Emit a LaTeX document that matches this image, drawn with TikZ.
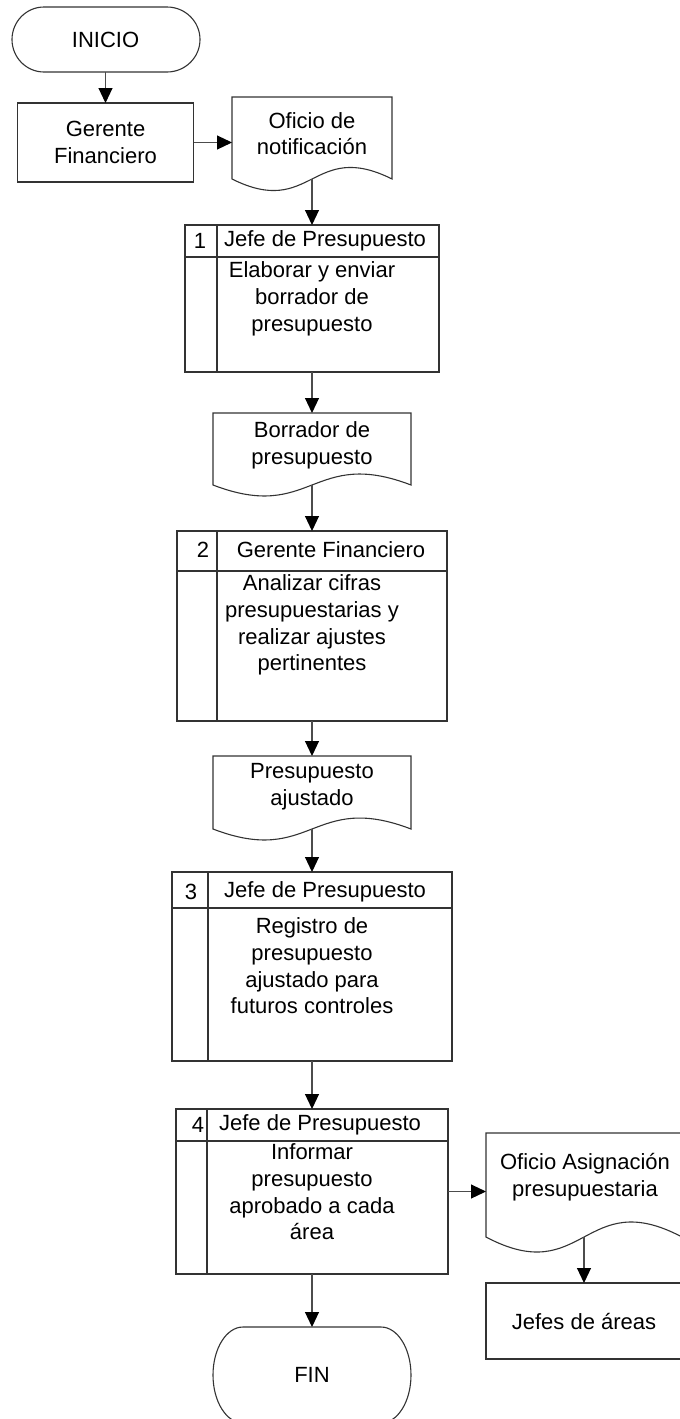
\documentclass[tikz,border=0pt]{standalone}
\usepackage{fontspec}
\setmainfont{Liberation Sans}
\usetikzlibrary{arrows.meta,calc}
\newcommand{\mydocshape}[2]{%
  \draw[shp] (#1.south west) -- (#1.north west) -- (#1.north east) -- (#1.south east)
    .. controls ($(#1.south)+(0,-#2)$) and ($(#1.south)+(0,#2)$) .. (#1.south west) -- cycle;}
\begin{document}
\begin{tikzpicture}[x=1pt,y=-1pt,
  shp/.style={draw=black!80, line width=1.1pt, line join=miter},
  frame/.style={inner sep=0pt, outer sep=0pt, minimum width=#1},
  txt/.style={inner sep=0pt, align=center, font=\fontsize{22}{26.7}\selectfont},
  arr/.style={draw=black!70, line width=1.1pt, -{Triangle[length=15pt,width=14pt,color=black]}}
]
\useasboundingbox (0,0) rectangle (680,1419);
\clip (0,0) rectangle (680,1419);

% INICIO
\node[frame=188pt, minimum height=65pt, txt] (ini) at (105.5,39.5) {INICIO};
\draw[shp] (44,7) -- (167,7) arc[start angle=90,end angle=-90,x radius=33pt,y radius=32.5pt]
  -- (44,72) arc[start angle=270,end angle=90,x radius=32pt,y radius=32.5pt] -- cycle;

% Gerente Financiero
\node[frame=176pt, minimum height=79pt, shp, txt] (ger) at (105.5,142.5) {Gerente\\Financiero};

% Oficio de notificacion
\node[frame=160pt, minimum height=82pt] (ofi) at (312,138) {};
\mydocshape{ofi}{40}
\node[txt] (ofit) at (312,133.5) {Oficio de\\notificación};

% Box 1
\node[frame=254pt, minimum height=147pt, shp] (b1) at (312,298.5) {};
\coordinate (b1h) at (185,257);
\draw[shp] (b1h) -- (b1h -| b1.east);
\draw[shp] (217,225) -- (217,372);
\node[txt] (b1n) at (200,241) {1};
\node[txt] (b1t) at (325,241) {Jefe de Presupuesto};
\node[txt] (b1b) at (312,299) {Elaborar y enviar\\borrador de\\presupuesto};

% Borrador
\node[frame=198pt, minimum height=72pt] (bor) at (312,449) {};
\mydocshape{bor}{38}
\node[txt] (bort) at (312,445) {Borrador de\\presupuesto};

% Box 2
\node[frame=270pt, minimum height=190pt, shp] (b2) at (312,626) {};
\coordinate (b2h) at (177,571);
\draw[shp] (b2h) -- (b2h -| b2.east);
\draw[shp] (217,531) -- (217,721);
\node[txt] (b2n) at (203,550) {2};
\node[txt] (b2t) at (331,550) {Gerente Financiero};
\node[txt] (b2b) at (312,625) {Analizar cifras\\presupuestarias y\\realizar ajustes\\pertinentes};

% Presupuesto ajustado
\node[frame=198pt, minimum height=73pt] (paj) at (312,792.5) {};
\mydocshape{paj}{38}
\node[txt] (pajt) at (312,787) {Presupuesto\\ajustado};

% Box 3
\node[frame=280pt, minimum height=189pt, shp] (b3) at (312,966.5) {};
\coordinate (b3h) at (172,908);
\draw[shp] (b3h) -- (b3h -| b3.east);
\draw[shp] (208,872) -- (208,1061);
\node[txt] (b3n) at (191,892) {3};
\node[txt] (b3t) at (325,892) {Jefe de Presupuesto};
\node[txt] (b3b) at (312,966) {Registro de\\presupuesto\\ajustado para\\futuros controles};

% Box 4
\node[frame=272pt, minimum height=165pt, shp] (b4) at (312,1191.5) {};
\coordinate (b4h) at (176,1141);
\draw[shp] (b4h) -- (b4h -| b4.east);
\draw[shp] (207,1109) -- (207,1274);
\node[txt] (b4n) at (198,1125) {4};
\node[txt] (b4t) at (320,1125) {Jefe de Presupuesto};
\node[txt] (b4b) at (312,1192) {Informar\\presupuesto\\aprobado a cada\\área};

% Oficio Asignacion
\node[frame=196pt, minimum height=104pt] (oa) at (584,1185) {};
\mydocshape{oa}{52}
\node[txt] (oat) at (585,1177) {Oficio Asignación\\presupuestaria};

% Jefes de areas
\node[frame=196pt, minimum height=76pt, shp, txt] (jef) at (584,1321) {Jefes de áreas};

% FIN
\node[frame=198pt, minimum height=96pt, txt] (fin) at (312,1375) {FIN};
\draw[shp] (243,1327) -- (381,1327) arc[start angle=90,end angle=-90,x radius=30pt,y radius=48pt]
  -- (243,1423) arc[start angle=270,end angle=90,x radius=30pt,y radius=48pt] -- cycle;

% connectors
\draw[arr] (ini.south) -- (ger.north);
\draw[arr] (ger.east) -- (ger.east -| ofi.west);
\draw[arr] (ofi.south) -- (b1.north);
\draw[arr] (b1.south) -- (bor.north);
\draw[arr] (bor.south) -- (b2.north);
\draw[arr] (b2.south) -- (paj.north);
\draw[arr] (paj.south) -- (b3.north);
\draw[arr] (b3.south) -- (b4.north);
\draw[arr] (b4.east) -- (b4.east -| oa.west);
\draw[arr] (oa.south) -- (jef.north);
\draw[arr] (b4.south) -- (fin.north);
\end{tikzpicture}
\end{document}
